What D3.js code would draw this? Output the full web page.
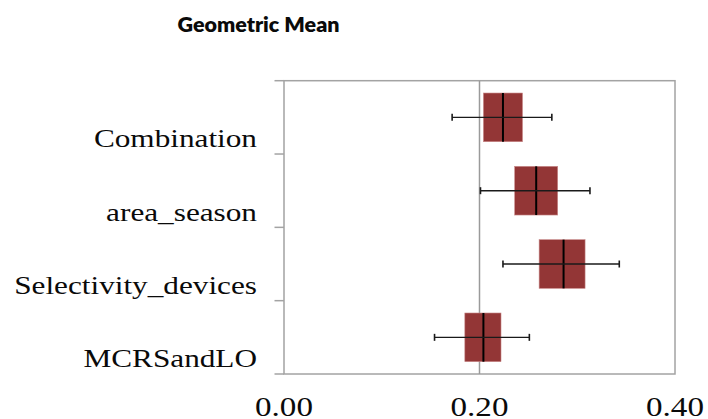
<!DOCTYPE html>
<html>
<head>
<meta charset="utf-8">
<script src="https://cdn.jsdelivr.net/npm/d3@7"></script>
<style>
  html, body { margin: 0; padding: 0; background: #fff; }
  svg { display: block; }
</style>
</head>
<body>
<svg id="chart" width="708" height="419"></svg>
<script>
// Geometric mean per model setup: central estimate, box bounds and whisker bounds
const categories  = ["Combination", "area_season", "Selectivity_devices", "MCRSandLO"];
const whiskerLow  = [0.172, 0.201, 0.224, 0.154];
const boxLow      = [0.204, 0.236, 0.261, 0.185];
const center      = [0.224, 0.258, 0.286, 0.204];
const boxHigh     = [0.244, 0.280, 0.308, 0.222];
const whiskerHigh = [0.274, 0.313, 0.343, 0.251];
const xTicks      = [0.00, 0.20, 0.40];
const titleText   = "Geometric Mean";

const rows = categories.map((c, i) => ({
  cat: c, wl: whiskerLow[i], bl: boxLow[i], m: center[i], bh: boxHigh[i], wh: whiskerHigh[i]
}));

const svg = d3.select("#chart");
const plot = { left: 284, right: 675, top: 80.7, bottom: 374 };
const stretch = 1.25;           // horizontal stretch of the text glyphs
const frameColor = "#a3a3a3";
const boxColor = "#933636";

const x = d3.scaleLinear().domain([0, 0.4]).range([plot.left, plot.right]);
const y = d3.scaleBand().domain(categories).range([plot.top, plot.bottom]).padding(0);

// Title
svg.append("text")
  .attr("x", 258.5).attr("y", 31.7)
  .attr("text-anchor", "middle")
  .attr("font-family", "Lato, 'Open Sans', sans-serif")
  .attr("font-weight", 800)
  .attr("font-size", 21.5)
  .attr("textLength", 162)
  .attr("lengthAdjust", "spacingAndGlyphs")
  .attr("fill", "#0a0a0a")
  .text(titleText);

// Plot frame
svg.append("rect")
  .attr("x", plot.left).attr("y", plot.top)
  .attr("width", plot.right - plot.left).attr("height", plot.bottom - plot.top)
  .attr("fill", "none").attr("stroke", frameColor).attr("stroke-width", 1.5);

// Reference line at 0.20
svg.append("line")
  .attr("x1", x(0.2)).attr("x2", x(0.2))
  .attr("y1", plot.top).attr("y2", plot.bottom)
  .attr("stroke", "#9a9a9a").attr("stroke-width", 1.5);

// Category axis ticks at band boundaries
const boundaries = categories.map(c => y(c)).concat([plot.bottom]);
svg.selectAll("line.ytick").data(boundaries).join("line")
  .attr("class", "ytick")
  .attr("x1", plot.left - 9.5).attr("x2", plot.left)
  .attr("y1", d => d).attr("y2", d => d)
  .attr("stroke", frameColor).attr("stroke-width", 1.5);

// Category labels
svg.selectAll("text.ylab").data(rows).join("text")
  .attr("class", "ylab")
  .attr("text-anchor", "end")
  .attr("transform", d => `translate(257,${y(d.cat) + y.bandwidth() / 2 + 30}) scale(${stretch},1)`)
  .attr("font-family", "'Liberation Serif', 'Times New Roman', serif")
  .attr("font-size", 25)
  .attr("fill", "#0a0a0a")
  .text(d => d.cat);

// X tick labels
svg.selectAll("text.xlab").data(xTicks).join("text")
  .attr("class", "xlab")
  .attr("text-anchor", "middle")
  .attr("transform", d => `translate(${x(d)},415.5) scale(${stretch},1)`)
  .attr("font-family", "'Liberation Serif', 'Times New Roman', serif")
  .attr("font-size", 26.5)
  .attr("fill", "#0a0a0a")
  .text(d => d3.format(".2f")(d));

// Boxes
const boxH = y.bandwidth() * 0.664;
const g = svg.append("g");
g.selectAll("rect.box").data(rows).join("rect")
  .attr("class", "box")
  .attr("x", d => x(d.bl))
  .attr("width", d => x(d.bh) - x(d.bl))
  .attr("y", d => y(d.cat) + (y.bandwidth() - boxH) / 2)
  .attr("height", boxH)
  .attr("fill", boxColor)
  .attr("stroke", "#c98a8a").attr("stroke-width", 0.6);

// Central estimate lines
g.selectAll("line.mid").data(rows).join("line")
  .attr("class", "mid")
  .attr("x1", d => x(d.m)).attr("x2", d => x(d.m))
  .attr("y1", d => y(d.cat) + (y.bandwidth() - boxH) / 2)
  .attr("y2", d => y(d.cat) + (y.bandwidth() + boxH) / 2)
  .attr("stroke", "#000").attr("stroke-width", 2);

// Whiskers
g.selectAll("line.whisk").data(rows).join("line")
  .attr("class", "whisk")
  .attr("x1", d => x(d.wl)).attr("x2", d => x(d.wh))
  .attr("y1", d => y(d.cat) + y.bandwidth() / 2)
  .attr("y2", d => y(d.cat) + y.bandwidth() / 2)
  .attr("stroke", "#1a1a1a").attr("stroke-width", 1.4);

const caps = rows.flatMap(d => [{cat: d.cat, v: d.wl}, {cat: d.cat, v: d.wh}]);
g.selectAll("line.cap").data(caps).join("line")
  .attr("class", "cap")
  .attr("x1", d => x(d.v)).attr("x2", d => x(d.v))
  .attr("y1", d => y(d.cat) + y.bandwidth() / 2 - 3.5)
  .attr("y2", d => y(d.cat) + y.bandwidth() / 2 + 3.5)
  .attr("stroke", "#1a1a1a").attr("stroke-width", 1.6);
</script>
</body>
</html>
